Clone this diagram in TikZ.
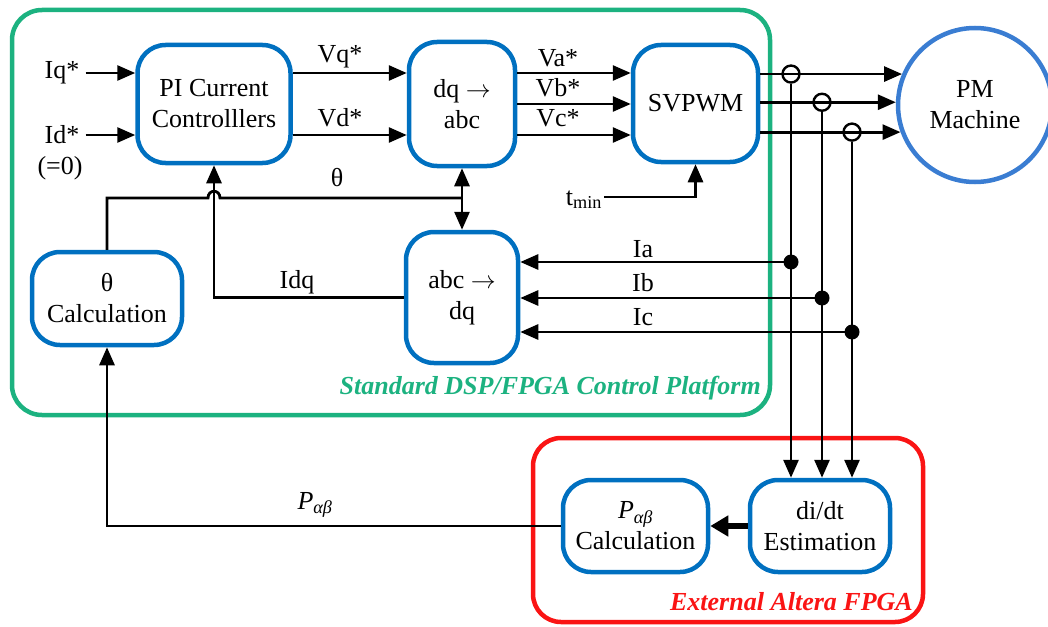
\documentclass[tikz,border=0pt]{standalone}
\usepackage{fontspec}
\setmainfont{Liberation Serif}
\usetikzlibrary{arrows.meta,calc}
\definecolor{boxblue}{RGB}{0,112,192}
\definecolor{pmblue}{RGB}{58,125,210}
\definecolor{frgreen}{RGB}{28,178,128}
\definecolor{frred}{RGB}{250,20,20}
\begin{document}
\begin{tikzpicture}[x=1pt,y=-1pt,
  every node/.style={font=\fontsize{26}{31}\selectfont,inner sep=2pt},
  blk/.style={draw=boxblue,line width=4.5pt,rounded corners=28pt,align=center,inner sep=0pt},
  ln/.style={line width=2.8pt},
  tip/.tip={Triangle[length=18pt,width=15pt]},
  arr/.style={line width=2.8pt,-tip},
  dot/.style={circle,fill=black,inner sep=0pt,minimum size=15pt},
  hopc/.style={circle,draw=black,line width=2.4pt,inner sep=0pt,minimum size=17pt},
  frlbl/.style={anchor=east,inner sep=0pt,font=\fontsize{26}{30}\selectfont\bfseries\itshape}
]
\useasboundingbox (0,0) rectangle (1048,626);

% frames
\draw[draw=frgreen,line width=4.5pt,rounded corners=30pt] (12,10) rectangle (770,415);
\draw[draw=frred,line width=4.5pt,rounded corners=28pt] (533,438) rectangle (923,622);
\node[frlbl,text=frgreen] (glbl) at (761,388) {Standard DSP/FPGA Control Platform};
\node[frlbl,text=frred] (rlbl) at (913,602) {External Altera FPGA};

% blocks
\node[blk,minimum width=153pt,minimum height=118pt] (pi) at (214,104) {PI Current\\Controlllers};
\node[blk,minimum width=106pt,minimum height=124pt] (dqabc) at (462,104) {dq $\rightarrow$\\abc};
\node[blk,minimum width=125pt,minimum height=117pt] (svpwm) at (695.5,103.5) {SVPWM};
\node[blk,minimum width=112pt,minimum height=131pt] (abcdq) at (462,297.5) {abc $\rightarrow$\\dq};
\node[blk,minimum width=150pt,minimum height=93pt] (thc) at (107,298.5) {θ\\Calculation};
\node[blk,minimum width=145pt,minimum height=92pt] (pcalc) at (635.5,526) {\textit{P}\textsubscript{\textit{αβ}}\\Calculation};
\node[blk,minimum width=140pt,minimum height=92pt] (didt) at (820,526) {di/dt\\Estimation};
\node[draw=pmblue,line width=4.5pt,circle,minimum size=154pt,align=center,inner sep=0pt] (pm) at (975,105) {PM\\Machine};

% helper rows / columns
\coordinate (r1) at (0,73);
\coordinate (r2) at (0,135);
\coordinate (rvb) at (0,104);
\coordinate (yth) at (0,198);
\coordinate (ytm) at (0,197);
\coordinate (ya) at (0,262);
\coordinate (yb) at (0,298);
\coordinate (yc) at (0,332);
\coordinate (x1) at (791,0);
\coordinate (x2) at (822,0);
\coordinate (x3) at (852,0);

% inputs
\node (iq) at (62,73) {Iq*};
\node (id) at (62,135) {Id*};
\node (id0) at (60,168) {(=0)};
\draw[arr] ([xshift=4pt]iq.east) -- (iq -| pi.west);
\draw[arr] ([xshift=4pt]id.east) -- (id -| pi.west);

% PI -> dq/abc
\draw[arr] (pi.east |- r1) -- (dqabc.west |- r1);
\draw[arr] (pi.east |- r2) -- (dqabc.west |- r2);
\node (vq) at (340,57) {Vq*};
\node (vd) at (340,118) {Vd*};

% dq/abc -> SVPWM
\draw[arr] (dqabc.east |- r1) -- (svpwm.west |- r1);
\draw[arr] (dqabc.east |- rvb) -- (svpwm.west |- rvb);
\draw[arr] (dqabc.east |- r2) -- (svpwm.west |- r2);
\node (va) at (558,58) {Va*};
\node (vb) at (558,88) {Vb*};
\node (vc) at (558,118) {Vc*};

% tmin
\node[anchor=base] (tmin) at (584,205) {t\textsubscript{min}};
\draw[arr] (tmin.east |- ytm) -| (svpwm.south);

% SVPWM -> PM machine
\coordinate (o1) at (pm.157);
\coordinate (o2) at (pm.178);
\coordinate (o3) at (pm.200);
\draw[arr] (svpwm.east |- o1) -- (o1);
\draw[arr] (svpwm.east |- o2) -- (o2);
\draw[arr] (svpwm.east |- o3) -- (o3);
\node[hopc] (h1) at (x1 |- o1) {};
\node[hopc] (h2) at (x2 |- o2) {};
\node[hopc] (h3) at (x3 |- o3) {};
\draw[arr] (h1.south) -- (h1.south |- didt.north);
\draw[arr] (h2.south) -- (h2.south |- didt.north);
\draw[arr] (h3.south) -- (h3.south |- didt.north);

% current feedback
\node[dot] (d1) at (x1 |- ya) {};
\node[dot] (d2) at (x2 |- yb) {};
\node[dot] (d3) at (x3 |- yc) {};
\draw[arr] (d1.center) -- (d1 -| abcdq.east);
\draw[arr] (d2.center) -- (d2 -| abcdq.east);
\draw[arr] (d3.center) -- (d3 -| abcdq.east);
\node (ia) at (643,249) {Ia};
\node (ib) at (643,283) {Ib};
\node (ic) at (643,317) {Ic};

% theta
\draw[ln] (thc.north) -- (thc.north |- yth) -- ($(pi.south |- yth)+(-6,0)$)
   .. controls ($(pi.south |- yth)+(-6,-9)$) and ($(pi.south |- yth)+(6,-9)$) .. ($(pi.south |- yth)+(6,0)$)
   -- (dqabc.south |- yth);
\draw[line width=2.8pt,tip-tip] (dqabc.south) -- (abcdq.north);
\node (th) at (337,178) {θ};

% Idq
\draw[arr] (abcdq.west) -| (pi.south);
\node (idq) at (297,282) {Idq};

% P alpha beta
\draw[arr] (pcalc.west) -| (thc.south);
\node (pab) at (315,505) {\textit{P}\textsubscript{\textit{αβ}}};
\draw[line width=5.5pt,-{Triangle[length=18pt,width=20pt]}] (didt.west) -- (pcalc.east);
\end{tikzpicture}
\end{document}
